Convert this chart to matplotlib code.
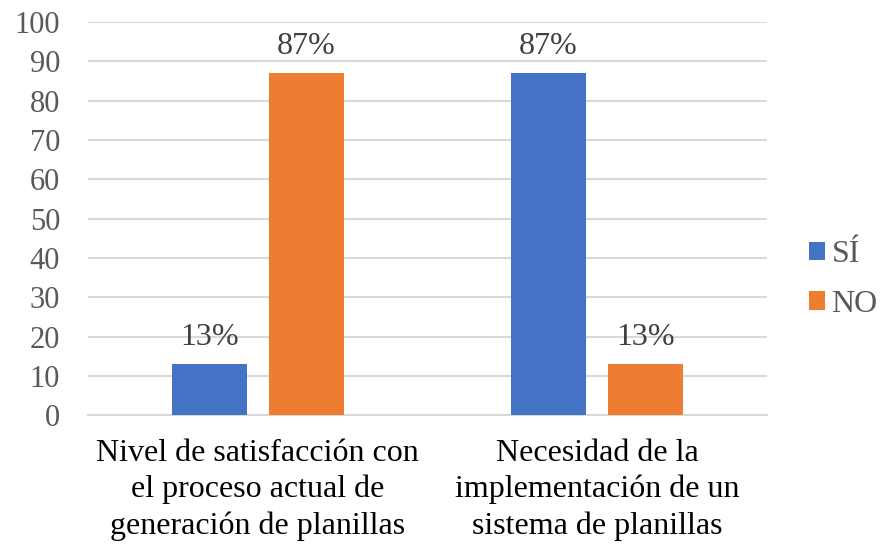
import numpy as np
import matplotlib.pyplot as plt

categorias = ["Nivel de satisfacción con\nel proceso actual de\ngeneración de planillas",
              "Necesidad de la\nimplementación de un\nsistema de planillas"]
si = [13, 87]
no = [87, 13]
etiquetas_si = ["13%", "87%"]
etiquetas_no = ["87%", "13%"]

plt.rcParams['font.family'] = ['Liberation Serif', 'DejaVu Serif']

fig = plt.figure(figsize=(8.85, 5.47), dpi=100)
ax = fig.add_axes([0.0994, 0.241, 0.767, 0.719])

x = np.arange(len(categorias))
w = 0.221
off = 0.143
b1 = ax.bar(x - off, si, w, color='#4472C4', label='SÍ', zorder=3)
b2 = ax.bar(x + off, no, w, color='#ED7D31', label='NO', zorder=3)

for rects, labs in ((b1, etiquetas_si), (b2, etiquetas_no)):
    for r, t in zip(rects, labs):
        ax.text(r.get_x() + r.get_width() / 2, r.get_height() + 3, t,
                ha='center', va='bottom', fontsize=23, color='#404040')

ax.set_xlim(-0.5, 1.5)
ax.set_ylim(0, 100)
ax.set_yticks(range(0, 101, 10))
ax.yaxis.grid(True, color='#d9d9d9', linewidth=1.5, zorder=0)
ax.set_axisbelow(True)
for s in ['top', 'right', 'left']:
    ax.spines[s].set_visible(False)
ax.spines['bottom'].set_color('#d9d9d9')
ax.spines['bottom'].set_linewidth(1.5)
ax.tick_params(axis='y', length=0, labelsize=22, labelcolor='#595959', pad=20)
ax.tick_params(axis='x', length=0, pad=17)
ax.set_xticks(x)
ax.set_xticklabels(categorias, fontsize=23, color='black', linespacing=1.32)

leg = ax.legend(loc='center left', bbox_to_anchor=(1.02, 0.345), frameon=False,
                fontsize=23, handlelength=0.5, handleheight=0.5,
                handletextpad=0.2, labelspacing=0.65, labelcolor='#595959')

fig.savefig('out.png', dpi=100)
